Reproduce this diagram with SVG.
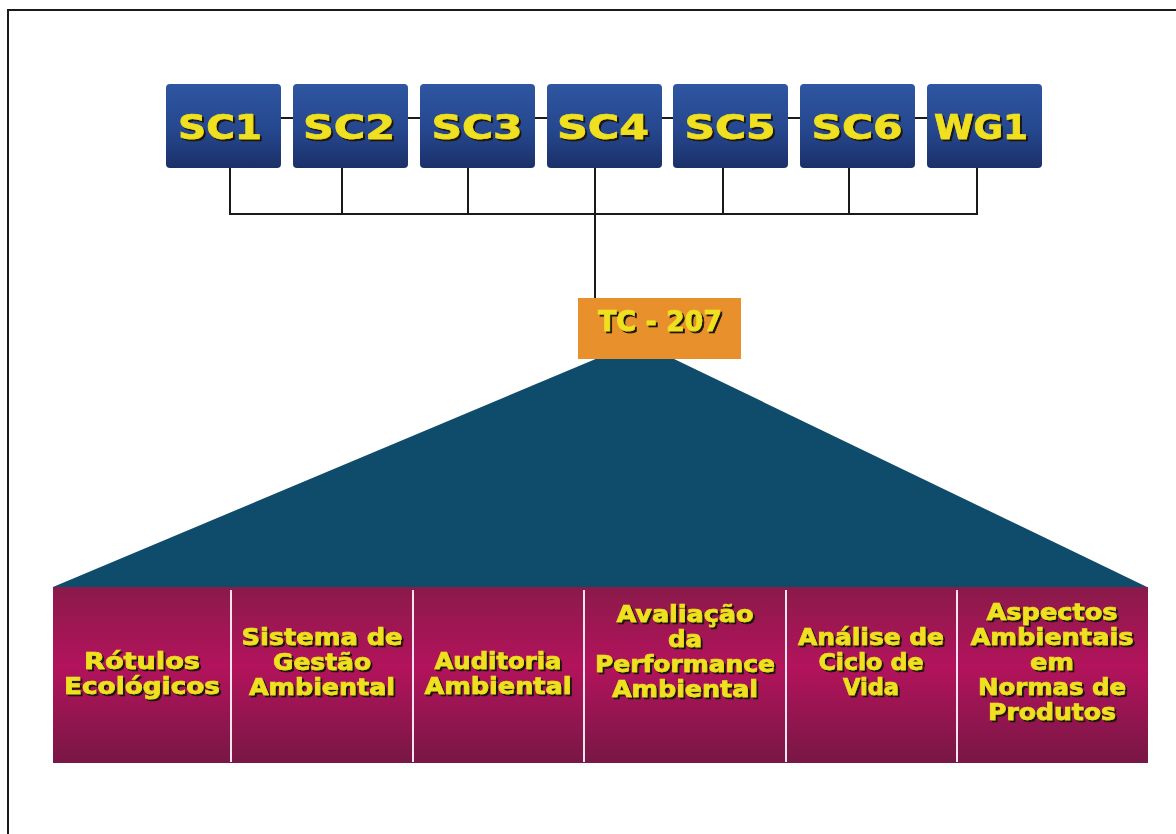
<svg xmlns="http://www.w3.org/2000/svg" width="1176" height="834" viewBox="0 0 1176 834">
<defs>
<linearGradient id="gBlue" x1="0" y1="0" x2="0" y2="1">
<stop offset="0" stop-color="#2f56a2"/>
<stop offset="0.55" stop-color="#25478e"/>
<stop offset="1" stop-color="#1b3068"/>
</linearGradient>
<linearGradient id="gPink" x1="0" y1="0" x2="0" y2="1">
<stop offset="0" stop-color="#8a1a4a"/>
<stop offset="0.45" stop-color="#b3135c"/>
<stop offset="1" stop-color="#781745"/>
</linearGradient>
<filter id="ds" x="-10%" y="-20%" width="130%" height="160%">
<feDropShadow dx="2" dy="2" stdDeviation="0.4" flood-color="#1a1410" flood-opacity="1"/>
</filter>
</defs>
<style>
.frame{fill:none;stroke:#1a1a1a;stroke-width:2}
.sc{fill:url(#gBlue)}
.pink{fill:url(#gPink)}
.div{stroke:#f3e4ee;stroke-width:2}
.con{fill:none;stroke:#1a1a1a;stroke-width:2}
.t{font-family:"DejaVu Sans","Liberation Sans",sans-serif;font-weight:bold;fill:#f0e020;stroke:#f0e020;stroke-width:0.7;text-anchor:middle}
.big{font-size:33px}
.mid{font-size:28px}
.sm{font-size:23px}
</style>
<rect width="1176" height="834" fill="#ffffff"/>
<path class="frame" d="M8,834 V10 H1176"/>

<g id="connectors">
<line class="con" x1="166" y1="118" x2="1042" y2="118"/>
<path class="con" d="M230,168 V214 H977 V168 M342,168 V214 M468,168 V214 M723,168 V214 M849,168 V214 M595,168 V298"/>
</g>

<g id="sc1"><rect class="sc" x="166" y="84" width="115" height="84" rx="4"/><text class="t big" x="220" y="139" textLength="84" lengthAdjust="spacingAndGlyphs" filter="url(#ds)">SC1</text></g>
<g id="sc2"><rect class="sc" x="293" y="84" width="115" height="84" rx="4"/><text class="t big" x="349" y="139" textLength="92" lengthAdjust="spacingAndGlyphs" filter="url(#ds)">SC2</text></g>
<g id="sc3"><rect class="sc" x="420" y="84" width="115" height="84" rx="4"/><text class="t big" x="477" y="139" textLength="91" lengthAdjust="spacingAndGlyphs" filter="url(#ds)">SC3</text></g>
<g id="sc4"><rect class="sc" x="547" y="84" width="115" height="84" rx="4"/><text class="t big" x="603" y="139" textLength="92" lengthAdjust="spacingAndGlyphs" filter="url(#ds)">SC4</text></g>
<g id="sc5"><rect class="sc" x="673" y="84" width="115" height="84" rx="4"/><text class="t big" x="730" y="139" textLength="91" lengthAdjust="spacingAndGlyphs" filter="url(#ds)">SC5</text></g>
<g id="sc6"><rect class="sc" x="800" y="84" width="115" height="84" rx="4"/><text class="t big" x="857" y="139" textLength="91" lengthAdjust="spacingAndGlyphs" filter="url(#ds)">SC6</text></g>
<g id="wg1"><rect class="sc" x="927" y="84" width="115" height="84" rx="4"/><text class="t big" x="981" y="139" textLength="94" lengthAdjust="spacingAndGlyphs" filter="url(#ds)">WG1</text></g>

<g id="scope">
<polygon points="53,587 598,358 672,358 1147,587" fill="#0f4c6b"/>
</g>

<g id="tc207"><rect x="578" y="298" width="163" height="61" fill="#e8902c"/><text class="t mid" x="660" y="331" textLength="124" lengthAdjust="spacingAndGlyphs" filter="url(#ds)">TC - 207</text></g>

<g id="areas">
<rect class="pink" x="53" y="587" width="1095" height="176"/>
<line class="div" x1="231" y1="590" x2="231" y2="762"/>
<line class="div" x1="413" y1="590" x2="413" y2="762"/>
<line class="div" x1="584" y1="590" x2="584" y2="762"/>
<line class="div" x1="786" y1="590" x2="786" y2="762"/>
<line class="div" x1="957" y1="590" x2="957" y2="762"/>
</g>

<g id="rotulos" filter="url(#ds)">
<text class="t sm" x="142" y="669" textLength="116" lengthAdjust="spacingAndGlyphs">Rótulos</text>
<text class="t sm" x="142" y="694" textLength="156" lengthAdjust="spacingAndGlyphs">Ecológicos</text>
</g>
<g id="sga" filter="url(#ds)">
<text class="t sm" x="322" y="645" textLength="161" lengthAdjust="spacingAndGlyphs">Sistema de</text>
<text class="t sm" x="322" y="670" textLength="98" lengthAdjust="spacingAndGlyphs">Gestão</text>
<text class="t sm" x="322" y="695" textLength="146" lengthAdjust="spacingAndGlyphs">Ambiental</text>
</g>
<g id="auditoria" filter="url(#ds)">
<text class="t sm" x="498" y="669" textLength="127" lengthAdjust="spacingAndGlyphs">Auditoria</text>
<text class="t sm" x="498" y="694" textLength="147" lengthAdjust="spacingAndGlyphs">Ambiental</text>
</g>
<g id="avaliacao" filter="url(#ds)">
<text class="t sm" x="685" y="622" textLength="137" lengthAdjust="spacingAndGlyphs">Avaliação</text>
<text class="t sm" x="685" y="647" textLength="34" lengthAdjust="spacingAndGlyphs">da</text>
<text class="t sm" x="685" y="672" textLength="180" lengthAdjust="spacingAndGlyphs">Performance</text>
<text class="t sm" x="685" y="697" textLength="146" lengthAdjust="spacingAndGlyphs">Ambiental</text>
</g>
<g id="acv" filter="url(#ds)">
<text class="t sm" x="871" y="645" textLength="146" lengthAdjust="spacingAndGlyphs">Análise de</text>
<text class="t sm" x="871" y="670" textLength="105" lengthAdjust="spacingAndGlyphs">Ciclo de</text>
<text class="t sm" x="871" y="695" textLength="56" lengthAdjust="spacingAndGlyphs">Vida</text>
</g>
<g id="aspectos" filter="url(#ds)">
<text class="t sm" x="1052" y="620" textLength="131" lengthAdjust="spacingAndGlyphs">Aspectos</text>
<text class="t sm" x="1052" y="645" textLength="163" lengthAdjust="spacingAndGlyphs">Ambientais</text>
<text class="t sm" x="1052" y="670" textLength="44" lengthAdjust="spacingAndGlyphs">em</text>
<text class="t sm" x="1052" y="695" textLength="148" lengthAdjust="spacingAndGlyphs">Normas de</text>
<text class="t sm" x="1052" y="720" textLength="128" lengthAdjust="spacingAndGlyphs">Produtos</text>
</g>
</svg>
